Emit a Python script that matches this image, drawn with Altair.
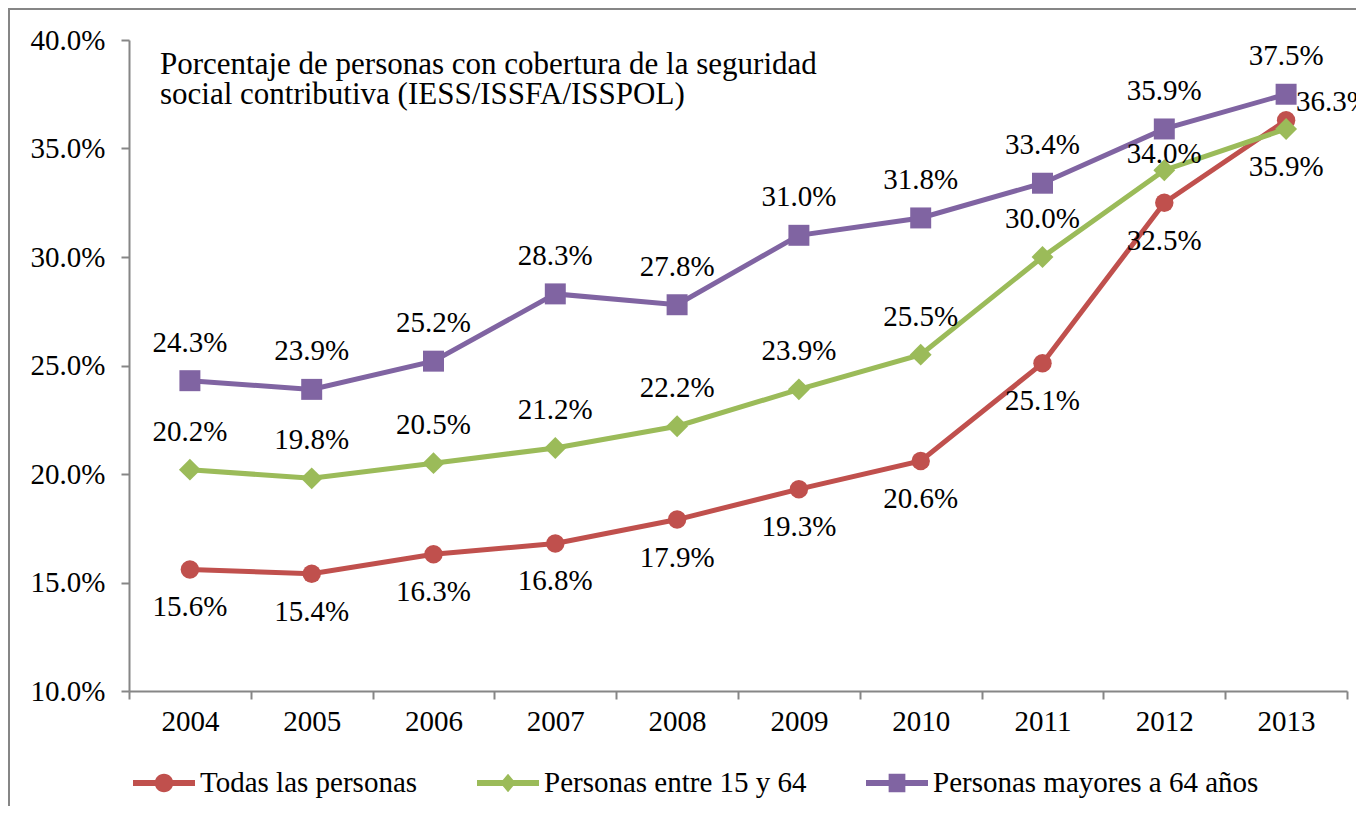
import altair as alt
import pandas as pd

years = ["2004", "2005", "2006", "2007", "2008", "2009", "2010", "2011", "2012", "2013"]
series_names = ["Todas las personas", "Personas entre 15 y 64", "Personas mayores a 64 años"]
todas = [15.6, 15.4, 16.3, 16.8, 17.9, 19.3, 20.6, 25.1, 32.5, 36.3]
entre = [20.2, 19.8, 20.5, 21.2, 22.2, 23.9, 25.5, 30.0, 34.0, 35.9]
mayores = [24.3, 23.9, 25.2, 28.3, 27.8, 31.0, 31.8, 33.4, 35.9, 37.5]
y_ticks = [10, 15, 20, 25, 30, 35, 40]
title_lines = ["Porcentaje de personas con cobertura de la seguridad",
               "social contributiva (IESS/ISSFA/ISSPOL)"]

# label placement (style, kept apart from values)
place_todas = ["below"] * 9 + ["right"]
place_entre = ["above"] * 8 + ["near"] + ["below"]
place_mayores = ["above"] * 10

colors = ["#C0504D", "#9BBB59", "#8064A2"]
FONT = "Liberation Serif"
FS = 29

rows = []
for name, vals, pl in zip(series_names, [todas, entre, mayores], [place_todas, place_entre, place_mayores]):
    for yr, v, p in zip(years, vals, pl):
        rows.append({"serie": name, "year": yr, "value": v, "pos": p,
                     "label": f"{v:.1f}%"})
df = pd.DataFrame(rows)

xenc = alt.X("year:N", sort=years,
             scale=alt.Scale(type="band", paddingInner=0, paddingOuter=0),
             axis=alt.Axis(title=None, labelAngle=0, tickBand="extent", labelPadding=8,
                           grid=False))
yenc = alt.Y("value:Q", scale=alt.Scale(domain=[10, 40], nice=False, zero=False),
             axis=alt.Axis(title=None, values=y_ticks, grid=False, labelPadding=16,
                           labelExpr="format(datum.value, '.1f') + '%'"))
cscale = alt.Scale(domain=series_names, range=colors)

base = alt.Chart(df)

border = alt.Chart(pd.DataFrame({"k": [0]})).mark_rect(
    fill=None, stroke="#868686", strokeWidth=2, clip=False
).encode(x=alt.value(-120), x2=alt.value(1400), y=alt.value(-31), y2=alt.value(1000))

shapes = ["circle", "diamond", "square"]
sizes = [340, 480, 440]
lines = []
pts = []
for name, shp, sz, col in zip(series_names, shapes, sizes, colors):
    sub = base.transform_filter(alt.datum.serie == name)
    lines.append(sub.mark_line(strokeWidth=5, color=col).encode(x=xenc, y=yenc))
    pts.append(sub.mark_point(
        shape=shp, filled=True, opacity=1, size=sz, color=col
    ).encode(x=xenc, y=yenc))

# legend symbols: line with marker (custom paths in unit square)
p_circle = ("M-1,-0.1H1V0.1H-1Z "
            "M-0.3,0A0.3,0.3 0 1,1 0.3,0A0.3,0.3 0 1,1 -0.3,0Z")
p_diamond = ("M-1,-0.1H1V0.1H-1Z "
             "M-0.25,0L0,-0.3L0.25,0L0,0.3Z")
p_square = ("M-1,-0.1H1V0.1H-1Z "
            "M-0.27,-0.3H0.27V0.3H-0.27Z")

leg = alt.Legend(title=None, orient="none", direction="horizontal",
                 legendX=4, legendY=712)
legend_layer = base.mark_point(filled=True, opacity=1, clip=True).encode(
    x=xenc,
    y=alt.value(-3000),
    color=alt.Color("serie:N", scale=cscale, legend=leg),
    shape=alt.Shape("serie:N", scale=alt.Scale(domain=series_names,
                                               range=[p_circle, p_diamond, p_square]),
                    legend=leg),
)

def txt(pos, **kw):
    return base.transform_filter(alt.datum.pos == pos).mark_text(
        font=FONT, fontSize=FS, color="black", baseline="middle", **kw
    ).encode(x=xenc, y=yenc, text="label:N")

labels = [
    txt("above", dy=-38),
    txt("below", dy=38),
    txt("near", dy=-16),
    txt("right", dy=-18, dx=10, align="left"),
]

chart = alt.layer(border, *lines, *pts, legend_layer, *labels).properties(
    width=1218, height=651,
    autosize=alt.AutoSizeParams(type="none"),
    padding={"left": 121, "top": 32, "right": 9, "bottom": 115},
    title=alt.TitleParams(text=title_lines, anchor="start", frame="group", orient="top",
                          dx=31, dy=127, offset=0, baseline="alphabetic",
                          font=FONT, fontSize=31, fontWeight="normal", color="black",
                          lineHeight=30),
).configure_view(stroke=None).configure_axis(
    labelFont=FONT, labelFontSize=FS, labelColor="black",
    domainColor="#868686", domainWidth=2, tickColor="#868686", tickWidth=2, tickSize=8,
).configure_legend(
    labelFont=FONT, labelFontSize=FS, labelColor="black",
    symbolSize=3844, symbolStrokeWidth=0, labelOffset=5, columnPadding=59, padding=0,
    labelLimit=500,
)

chart.save("out.html", embed_options={"renderer": "svg", "actions": False})
